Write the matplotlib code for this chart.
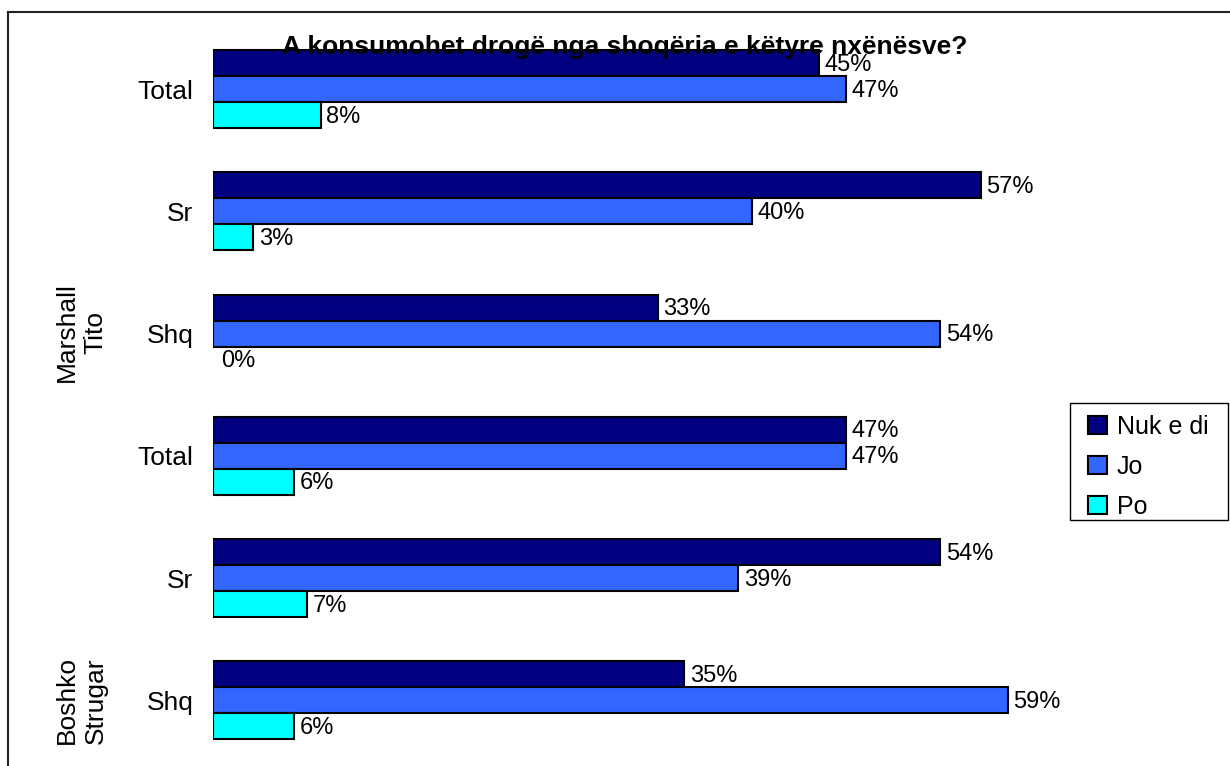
import numpy as np
import matplotlib
matplotlib.use('Agg')
import matplotlib.pyplot as plt
from matplotlib.lines import Line2D
from matplotlib.patches import Patch, Rectangle

plt.rcParams['font.family'] = ['Liberation Sans', 'DejaVu Sans']

# data (top to bottom)
categories = ['Total', 'Sr', 'Shq', 'Total', 'Sr', 'Shq']
nuk_e_di = [45, 57, 33, 47, 54, 35]
jo = [47, 40, 54, 47, 39, 59]
po = [8, 3, 0, 6, 7, 6]
schools = ['Marshall\nTito', 'Boshko\nStrugar']
school_pos = [1.99, 5.0]

series = [('Nuk e di', nuk_e_di, '#000080'),
          ('Jo', jo, '#3366FF'),
          ('Po', po, '#00FFFF')]

W, H = 1230, 766
fig = plt.figure(figsize=(12.3, 7.66), dpi=100)
ax = fig.add_axes([213 / W, (H - 761.5) / H, 848.6 / W, 733.5 / H])

bh = 0.2126
y = np.arange(len(categories))
for k, (name, vals, col) in enumerate(series):
    ypos = y + (k - 1) * bh
    lws = [1.5 if v else 0 for v in vals]
    bars = ax.barh(ypos, vals, height=bh, color=col, edgecolor='black',
                   linewidth=lws, label=name)
    for b, v in zip(bars, vals):
        ax.annotate(f'{v}%', (v, b.get_y() + b.get_height() / 2),
                    xytext=(4 if v else 6, -1), textcoords='offset points',
                    ha='left', va='center', fontsize=17)

ax.set_xlim(0, 63)
ax.set_ylim(5.5, -0.5)
ax.set_yticks(y)
ax.set_yticklabels(categories, fontsize=19)
ax.tick_params(axis='y', length=0, pad=14)
ax.set_xticks([])
for s in ax.spines.values():
    s.set_visible(False)

for lab, p in zip(schools, school_pos):
    ax.text(-132 / 13.47, p, lab, rotation=90, ha='center', va='center',
            multialignment='center', fontsize=19, linespacing=1.25)

fig.text(625 / W, 1 - 47 / H, 'A konsumohet drogë nga shoqëria e këtyre nxënësve?',
         ha='center', va='center', fontsize=19, fontweight='bold', zorder=10)

# legend: frame drawn separately
fig.add_artist(Rectangle((1070 / W, 1 - 520 / H), 158 / W, 117 / H, transform=fig.transFigure,
                         facecolor='white', edgecolor='black', lw=1.0))
handles = [Patch(facecolor=c, edgecolor='black', linewidth=1.5, label=n) for n, _, c in series]
leg = fig.legend(handles=handles, loc='upper left', bbox_to_anchor=(1088 / W, 1 - 415 / H),
                 fontsize=18, frameon=False,
                 handlelength=0.75, handleheight=0.75, handletextpad=0.4,
                 borderpad=0, labelspacing=0.63, borderaxespad=0)
leg.set_zorder(5)

# outer border
fig.add_artist(Line2D([8 / W, 8 / W], [0, 1 - 12 / H], color='#222222', lw=1.5))
fig.add_artist(Line2D([8 / W, 1], [1 - 12 / H, 1 - 12 / H], color='#222222', lw=1.5))

fig.savefig('out.png', dpi=100)
